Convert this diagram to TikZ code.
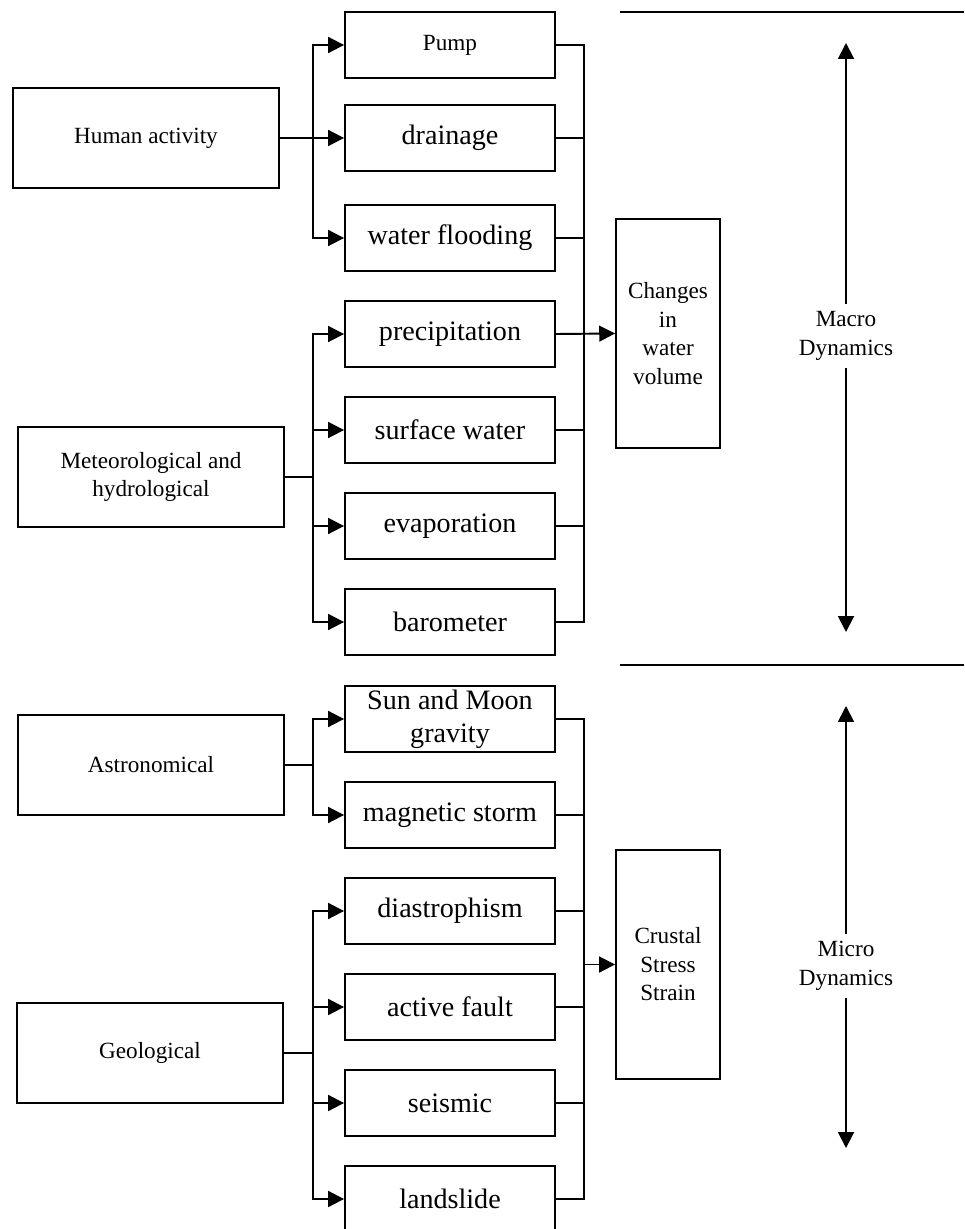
\documentclass[tikz,border=0pt]{standalone}
\usepackage{fontspec}
\setmainfont{Liberation Serif}
\usepackage{tikz}
\usetikzlibrary{arrows.meta}

\tikzset{
	cause/.style={draw, minimum width=5.32cm, minimum height=2cm, align=center, font=\fontsize{13.2}{16.2}\selectfont},
	factor/.style={draw, minimum width=4.2cm, minimum height=1.32cm, align=center, inner sep=1pt, font=\fontsize{16}{18.6}\selectfont},
	effect/.style={draw, minimum width=2.08cm, minimum height=4.58cm, align=center, font=\fontsize{13.2}{16.2}\selectfont},
	dynlabel/.style={fill=white, align=center, inner sep=4pt, font=\fontsize{13.2}{16.2}\selectfont}
}

\begin{document}
\begin{tikzpicture}[x=0.02cm, y=-0.02cm, line width=1.1pt, >={Triangle[length=9pt, width=9pt]}]
				\useasboundingbox (0, 0) rectangle (964, 1229);
				\coordinate (Branch) at (313, 0);
				\coordinate (Collect) at (584, 0);
				
				% causes
				\node[cause] (Human) at (146, 138) {Human activity};
				\node[cause] (Meteo) at (151, 477) {Meteorological and\\hydrological};
				\node[cause] (Astro) at (151, 765) {Astronomical};
				\node[cause] (Geo) at (150, 1053) {Geological};
				
				% factors
				\node[factor, font=\fontsize{13.2}{16.2}\selectfont] (Pump) at (450, 45) {Pump};
				\node[factor] (Drainage) at (450, 138) {drainage};
				\node[factor] (Flooding) at (450, 238) {water flooding};
				\node[factor] (Precip) at (450, 334) {precipitation};
				\node[factor] (Surface) at (450, 430) {surface water};
				\node[factor] (Evap) at (450, 526) {evaporation};
				\node[factor] (Baro) at (450, 622) {barometer};
				\node[factor] (Gravity) at (450, 719) {Sun and Moon\\gravity};
				\node[factor] (Magnetic) at (450, 815) {magnetic storm};
				\node[factor] (Diastro) at (450, 911) {diastrophism};
				\node[factor] (Fault) at (450, 1007) {active fault};
				\node[factor] (Seismic) at (450, 1103) {seismic};
				\node[factor] (Landslide) at (450, 1199) {landslide};
				
				% effects
				\node[effect] (Water) at (668, 333.5) {Changes\\in\\water\\volume};
				\node[effect] (Crust) at (668, 964.5) {Crustal\\Stress\\Strain};
				
				% human activity
				\draw[->] (Human.east) -- (Human.east -| Branch) |- (Pump.west);
				\draw[->] (Human.east) -- (Drainage.west);
				\draw[->] (Human.east -| Branch) |- (Flooding.west);
				
				% meteorological and hydrological
				\draw (Meteo.east) -- (Meteo.east -| Branch);
				\draw[->] (Branch |- Surface.west) |- (Precip.west);
				\draw[->] (Branch |- Surface.west) -- (Surface.west);
				\draw[->] (Branch |- Surface.west) |- (Baro.west);
				\draw[->] (Branch |- Evap.west) -- (Evap.west);
				
				% astronomical
				\draw (Astro.east) -- (Astro.east -| Branch);
				\draw[->] (Astro.east -| Branch) |- (Gravity.west);
				\draw[->] (Astro.east -| Branch) |- (Magnetic.west);
				
				% geological
				\draw (Geo.east) -- (Geo.east -| Branch);
				\draw[->] (Geo.east -| Branch) |- (Diastro.west);
				\draw[->] (Geo.east -| Branch) |- (Landslide.west);
				\draw[->] (Branch |- Fault.west) -- (Fault.west);
				\draw[->] (Branch |- Seismic.west) -- (Seismic.west);
				
				% water volume
				\draw (Pump.east) -| (Collect |- Baro.east) -- (Baro.east);
				\draw (Drainage.east) -- (Collect |- Drainage.east);
				\draw (Flooding.east) -- (Collect |- Flooding.east);
				\draw (Surface.east) -- (Collect |- Surface.east);
				\draw (Evap.east) -- (Collect |- Evap.east);
				\draw[->] (Precip.east) -- (Water.west);
				
				% crustal stress
				\draw (Gravity.east) -| (Collect |- Landslide.east) -- (Landslide.east);
				\draw (Magnetic.east) -- (Collect |- Magnetic.east);
				\draw (Diastro.east) -- (Collect |- Diastro.east);
				\draw (Fault.east) -- (Collect |- Fault.east);
				\draw (Seismic.east) -- (Collect |- Seismic.east);
				\draw[->] (Collect |- Crust.west) -- (Crust.west);
				
				% dynamics
				\draw (620, 12) -- (964, 12);
				\draw (620, 665) -- (964, 665);
				
				\coordinate (MacroTop) at (846, 43);
				\coordinate (MacroBottom) at (846, 632);
				\node[dynlabel] (Macro) at (846, 336) {Macro\\Dynamics};
				\draw[->] (Macro) -- (MacroTop);
				\draw[->] (Macro) -- (MacroBottom);
				
				\coordinate (MicroTop) at (846, 706);
				\coordinate (MicroBottom) at (846, 1148);
				\node[dynlabel] (Micro) at (846, 966) {Micro\\Dynamics};
				\draw[->] (Micro) -- (MicroTop);
				\draw[->] (Micro) -- (MicroBottom);
			\end{tikzpicture}
\end{document}
